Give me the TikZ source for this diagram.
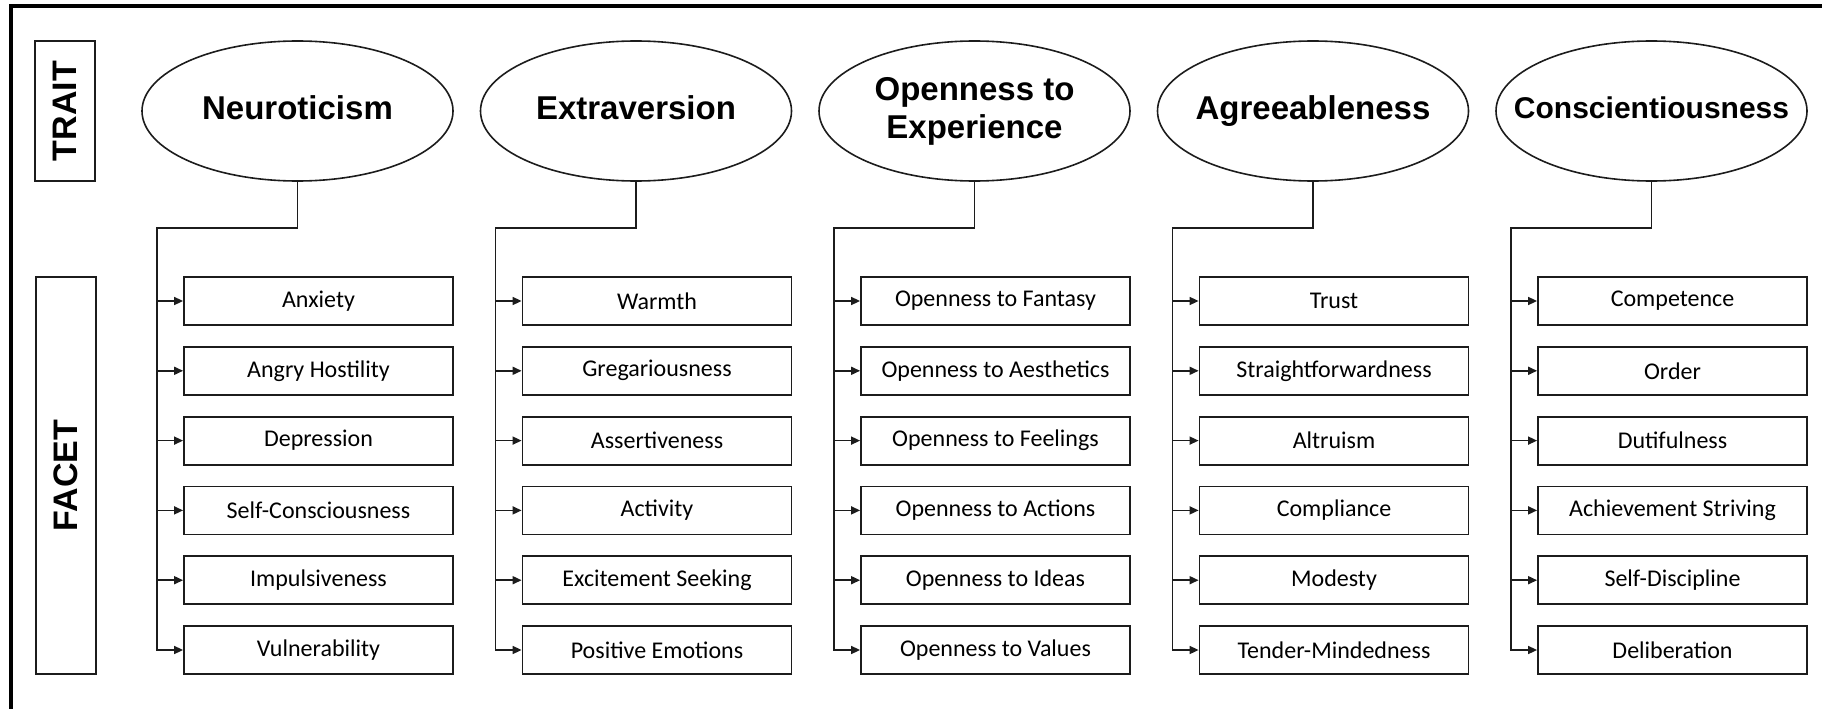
\documentclass[tikz,border=0pt]{standalone}
\usepackage{fontspec}
\setmainfont{Carlito}
\newfontfamily\traitfont{Liberation Sans}
\usetikzlibrary{shapes.geometric,arrows.meta}
\definecolor{ink}{RGB}{28,28,28}
% trait names are set in a zero-width box so the ellipse keeps its own size
\newcommand{\traitname}[1]{\makebox[0pt][c]{\begin{tabular}{@{}c@{}}#1\end{tabular}}}
\begin{document}
\begin{tikzpicture}[x=1pt,y=-1pt,
  trait/.style={ellipse,draw=ink,line width=1.6pt,minimum width=311pt,minimum height=140pt,
    inner sep=0pt,font=\traitfont\bfseries\fontsize{33}{40}\selectfont},
  facetbox/.style={rectangle,draw=ink,line width=1.8pt,minimum width=269pt,minimum height=48pt,
    inner sep=0pt,font=\fontsize{24}{28}\selectfont},
  sidebox/.style={rectangle,draw=ink,line width=1.8pt,minimum height=60pt,inner sep=0pt,rotate=90,
    font=\traitfont\bfseries\fontsize{34}{40}\selectfont},
  link/.style={draw=ink,line width=1.6pt},
  feed/.style={link,-{Triangle[length=9pt,width=8pt]}},
  outerframe/.style={draw=black,line width=3.5pt}]
\useasboundingbox (0,0) rectangle (1822,709);

% frame along the top and left edges
\draw[outerframe] (11,709) -- (11,6) -- (1822,6);

% row captions
\node[sidebox,minimum width=140pt] (traitcap) at (65,111) {TRAIT};
\node[sidebox,minimum width=397pt] (facetcap) at (66,475.5) {FACET};

% the five traits
\foreach \i/\tname in {0/Neuroticism,1/Extraversion,2/{Openness to\\[-2pt]Experience},3/Agreeableness}{
  \node[trait] (t\i) at ({297.5+338.5*\i},111) {\traitname{\tname}};
}
\node[trait,font=\traitfont\bfseries\fontsize{30}{36}\selectfont] (t4) at ({297.5+338.5*4},111) {\traitname{Conscientiousness}};

% facets of each trait
\foreach \i/\flist in {
  0/{Anxiety,Angry Hostility,Depression,Self-Consciousness,Impulsiveness,Vulnerability},
  1/{Warmth,Gregariousness,Assertiveness,Activity,Excitement Seeking,Positive Emotions},
  2/{Openness to Fantasy,Openness to Aesthetics,Openness to Feelings,Openness to Actions,Openness to Ideas,Openness to Values},
  3/{Trust,Straightforwardness,Altruism,Compliance,Modesty,Tender-Mindedness},
  4/{Competence,Order,Dutifulness,Achievement Striving,Self-Discipline,Deliberation}}{
  \coordinate (k\i) at ({157+338.5*\i},228);
  \foreach \f [count=\j] in \flist {
    \node[facetbox] (f\i-\j) at ({318.5+338.5*\i},{301+69.8*(\j-1)}) {\f};
  }
}

% connectors: trait down to its spine, spine to each facet
\foreach \i in {0,...,4}{
  \draw[feed] (t\i.south) |- (k\i) |- (f\i-6.west);
  \foreach \j in {1,...,5}{
    \draw[feed] (k\i |- f\i-\j.west) -- (f\i-\j.west);
  }
}
\end{tikzpicture}
\end{document}
